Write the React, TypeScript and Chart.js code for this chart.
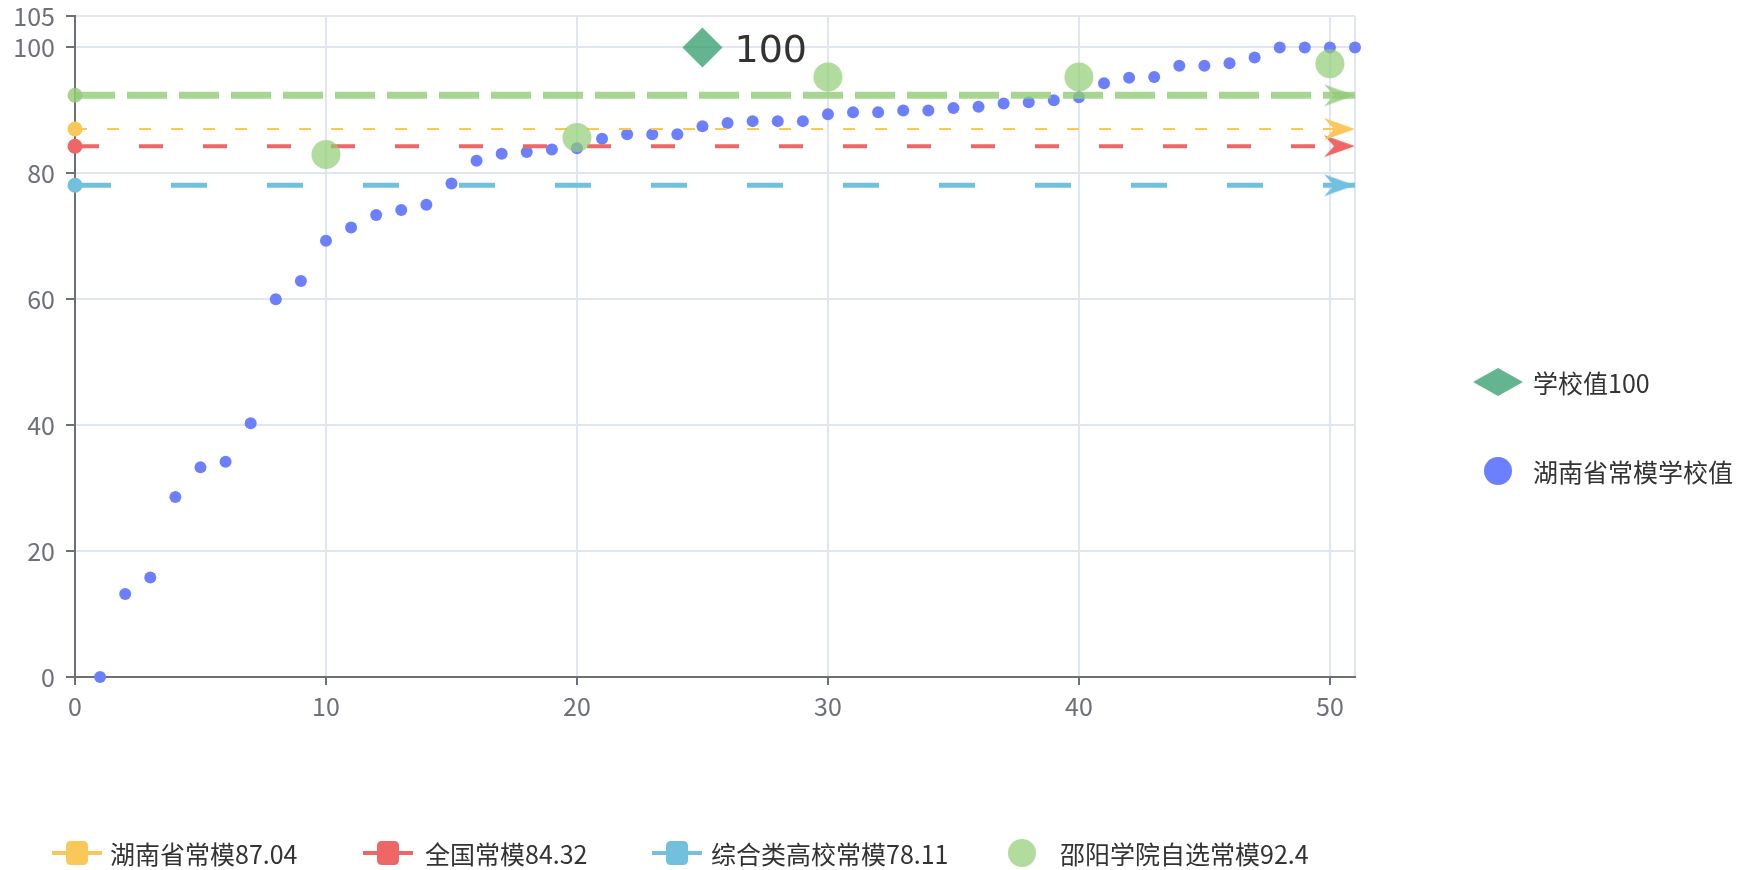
import React, { useEffect, useRef } from 'react';
import { Chart, registerables } from 'chart.js';

Chart.register(...registerables);

// ---------- data ----------
const ranks = [
  1, 2, 3, 4, 5, 6, 7, 8, 9, 10, 11, 12, 13, 14, 15, 16, 17, 18, 19, 20, 21, 22, 23, 24, 25,
  26, 27, 28, 29, 30, 31, 32, 33, 34, 35, 36, 37, 38, 39, 40, 41, 42, 43, 44, 45, 46, 47, 48, 49, 50, 51,
];
const provinceSchoolValues = [
  0, 13.2, 15.8, 28.6, 33.3, 34.2, 40.3, 60.0, 62.9, 69.3, 71.4, 73.4, 74.2, 75.0, 78.4, 82.0, 83.1,
  83.4, 83.8, 84.0, 85.5, 86.2, 86.2, 86.2, 87.5, 88.0, 88.3, 88.3, 88.3, 89.4, 89.7, 89.7, 90.0, 90.0,
  90.4, 90.6, 91.1, 91.3, 91.6, 92.1, 94.3, 95.2, 95.3, 97.1, 97.1, 97.5, 98.4, 100, 100, 100, 100,
];
const selfNormX = [10, 20, 30, 40, 50];
const selfNormValues = [83.0, 85.7, 95.3, 95.3, 97.4];
const schoolX = [25];
const schoolY = [100];
const schoolLabel = '学校值100';
const schoolPointText = '100';
const provinceSchoolLabel = '湖南省常模学校值';
const normNames = ['湖南省常模87.04', '全国常模84.32', '综合类高校常模78.11', '邵阳学院自选常模92.4'];
const normValues = [87.04, 84.32, 78.11, 92.4];
const lineSpan = [0, 51];
const xTickValues = [0, 10, 20, 30, 40, 50, 51];
const yTickValues = [0, 20, 40, 60, 80, 100, 105];

// ---------- styles ----------
const FONT = "'Noto Sans CJK SC', 'Noto Sans', sans-serif";
const AXIS = '#6e7079';
const GRID = '#e0e6f1';
const BLUE = '#6c80fe';
const DIAMOND = 'rgba(59,162,114,0.8)';
const SELF = 'rgba(145,204,117,0.7)';
const normColors = ['#fac858', '#ee6666', '#73c0de', 'rgba(145,204,117,0.8)'];
const normWidths = [2, 4, 5, 7];
const normDashes = [[12, 20], [24, 40], [36, 60], [40, 12]];

const zeroPadding = () => ({ left: 0, top: 0, right: 0, bottom: 0 });

function makeArrow(color: string) {
  const c = document.createElement('canvas');
  c.width = 64;
  c.height = 24;
  const g = c.getContext('2d')!;
  g.fillStyle = color;
  g.beginPath();
  g.moveTo(32, 12);
  g.lineTo(1, 1);
  g.lineTo(11, 12);
  g.lineTo(1, 23);
  g.closePath();
  g.fill();
  return c;
}

function roundRect(ctx: CanvasRenderingContext2D, x: number, y: number, w: number, h: number, r: number) {
  ctx.beginPath();
  ctx.moveTo(x + r, y);
  ctx.lineTo(x + w - r, y);
  ctx.quadraticCurveTo(x + w, y, x + w, y + r);
  ctx.lineTo(x + w, y + h - r);
  ctx.quadraticCurveTo(x + w, y + h, x + w - r, y + h);
  ctx.lineTo(x + r, y + h);
  ctx.quadraticCurveTo(x, y + h, x, y + h - r);
  ctx.lineTo(x, y + r);
  ctx.quadraticCurveTo(x, y, x + r, y);
  ctx.closePath();
}

const decorPlugin = {
  id: 'decor',
  afterDatasetsDraw(chart: any) {
    const ctx: CanvasRenderingContext2D = chart.ctx;
    const meta = chart.getDatasetMeta(0);
    const pt = meta.data[0];
    if (pt) {
      ctx.save();
      ctx.font = "38px 'DejaVu Sans', sans-serif";
      ctx.fillStyle = '#333';
      ctx.textAlign = 'left';
      ctx.textBaseline = 'middle';
      ctx.fillText(schoolPointText, pt.x + 32, pt.y + 5);
      ctx.restore();
    }
  },
  afterDraw(chart: any) {
    const ctx: CanvasRenderingContext2D = chart.ctx;
    ctx.save();
    ctx.font = `25px ${FONT}`;
    ctx.textBaseline = 'middle';
    ctx.textAlign = 'left';

    // right legend
    const rx = 1498;
    ctx.fillStyle = DIAMOND;
    ctx.beginPath();
    ctx.moveTo(rx - 25, 382);
    ctx.lineTo(rx, 368);
    ctx.lineTo(rx + 25, 382);
    ctx.lineTo(rx, 396);
    ctx.closePath();
    ctx.fill();
    ctx.fillStyle = '#333';
    ctx.fillText(schoolLabel, 1533, 383);

    ctx.fillStyle = BLUE;
    ctx.beginPath();
    ctx.arc(rx, 471, 14, 0, Math.PI * 2);
    ctx.fill();
    ctx.fillStyle = '#333';
    ctx.fillText(provinceSchoolLabel, 1533, 472);

    // bottom legend
    const by = 853;
    const iconX = [52, 363, 652, 997];
    const textX = [110, 425, 711, 1060];
    normNames.forEach((name, i) => {
      const x0 = iconX[i];
      if (i < 3) {
        ctx.strokeStyle = normColors[i];
        ctx.lineWidth = 4;
        ctx.beginPath();
        ctx.moveTo(x0, by);
        ctx.lineTo(x0 + 50, by);
        ctx.stroke();
        ctx.fillStyle = normColors[i];
        roundRect(ctx, x0 + 14, by - 12, 22, 24, 5);
        ctx.fill();
      } else {
        ctx.fillStyle = SELF;
        ctx.beginPath();
        ctx.arc(x0 + 25, by, 14, 0, Math.PI * 2);
        ctx.fill();
      }
      ctx.fillStyle = '#333';
      ctx.fillText(name, textX[i], by + 1);
    });
    ctx.restore();
  },
};

export default function App() {
  const ref = useRef<HTMLCanvasElement | null>(null);

  useEffect(() => {
    if (!ref.current) return;

    const normDatasets = normValues.map((v, i) => ({
      label: normNames[i],
      data: lineSpan.map((x) => ({ x, y: v })),
      showLine: true,
      borderColor: normColors[i],
      backgroundColor: normColors[i],
      borderWidth: normWidths[i],
      borderDash: normDashes[i],
      pointStyle: ['circle', makeArrow(normColors[i])] as any,
      pointRadius: [7.5, 12],
      pointHoverRadius: [7.5, 12],
      pointBackgroundColor: normColors[i],
      pointBorderWidth: 0,
      tension: 0,
      clip: false as any,
      order: i === 3 ? 2 : 3 + i,
    }));

    const chart = new Chart(ref.current, {
      type: 'scatter',
      data: {
        datasets: [
          {
            label: schoolLabel,
            data: schoolX.map((x, i) => ({ x, y: schoolY[i] })),
            pointStyle: 'rectRot',
            pointRadius: 20,
            pointHoverRadius: 20,
            backgroundColor: DIAMOND,
            pointBackgroundColor: DIAMOND,
            pointBorderWidth: 0,
            clip: false as any,
            order: 0,
          },
          {
            label: normNames[3],
            data: selfNormX.map((x, i) => ({ x, y: selfNormValues[i] })),
            pointStyle: 'circle',
            pointRadius: 14.5,
            pointHoverRadius: 14.5,
            pointBackgroundColor: SELF,
            backgroundColor: SELF,
            pointBorderWidth: 0,
            clip: false as any,
            order: 1,
          },
          ...normDatasets,
          {
            label: provinceSchoolLabel,
            data: ranks.map((x, i) => ({ x, y: provinceSchoolValues[i] })),
            pointStyle: 'circle',
            pointRadius: 6,
            pointHoverRadius: 6,
            pointBackgroundColor: BLUE,
            backgroundColor: BLUE,
            pointBorderWidth: 0,
            clip: false as any,
            order: 7,
          },
        ] as any,
      },
      options: {
        animation: false,
        responsive: false,
        devicePixelRatio: 1,
        events: [],
        layout: { autoPadding: false, padding: { left: 0, top: 16, right: 385, bottom: 0 } },
        plugins: {
          legend: { display: false },
          tooltip: { enabled: false },
        },
        scales: {
          x: {
            type: 'linear',
            min: 0,
            max: 51,
            afterBuildTicks: (s: any) => {
              s.ticks = xTickValues.map((value) => ({ value }));
            },
            afterFit: (s: any) => {
              s.height = 193;
              s.paddingLeft = 0;
              s.paddingRight = 0;
              s.paddingTop = 0;
              s.paddingBottom = 0;
              s.getPadding = zeroPadding;
            },
            ticks: {
              color: AXIS,
              padding: 6,
              autoSkip: false,
              maxRotation: 0,
              font: { family: FONT, size: 25 },
              callback: (v: any) => (v === 51 ? '' : String(v)),
            },
            grid: {
              color: GRID,
              lineWidth: 2,
              tickLength: 8,
              tickWidth: 2,
              tickColor: (c: any) => (c.tick && c.tick.value === 51 ? 'rgba(0,0,0,0)' : AXIS),
            },
            border: { color: AXIS, width: 2 },
          },
          y: {
            type: 'linear',
            min: 0,
            max: 105,
            afterBuildTicks: (s: any) => {
              s.ticks = yTickValues.map((value) => ({ value }));
            },
            afterFit: (s: any) => {
              s.width = 75;
              s.paddingLeft = 0;
              s.paddingRight = 0;
              s.paddingTop = 0;
              s.paddingBottom = 0;
              s.getPadding = zeroPadding;
            },
            ticks: {
              color: AXIS,
              padding: 11,
              autoSkip: false,
              font: { family: FONT, size: 25 },
              callback: (v: any) => String(v),
            },
            grid: {
              color: GRID,
              lineWidth: 2,
              tickLength: 9,
              tickWidth: 2,
              tickColor: AXIS,
            },
            border: { color: AXIS, width: 2 },
          },
        },
      } as any,
      plugins: [decorPlugin],
    });

    return () => chart.destroy();
  }, []);

  return (
    <div style={{ position: 'absolute', left: 0, top: 0, width: 1740, height: 870, background: '#fff' }}>
      <canvas ref={ref} width={1740} height={870} style={{ display: 'block', width: 1740, height: 870 }} />
    </div>
  );
}
